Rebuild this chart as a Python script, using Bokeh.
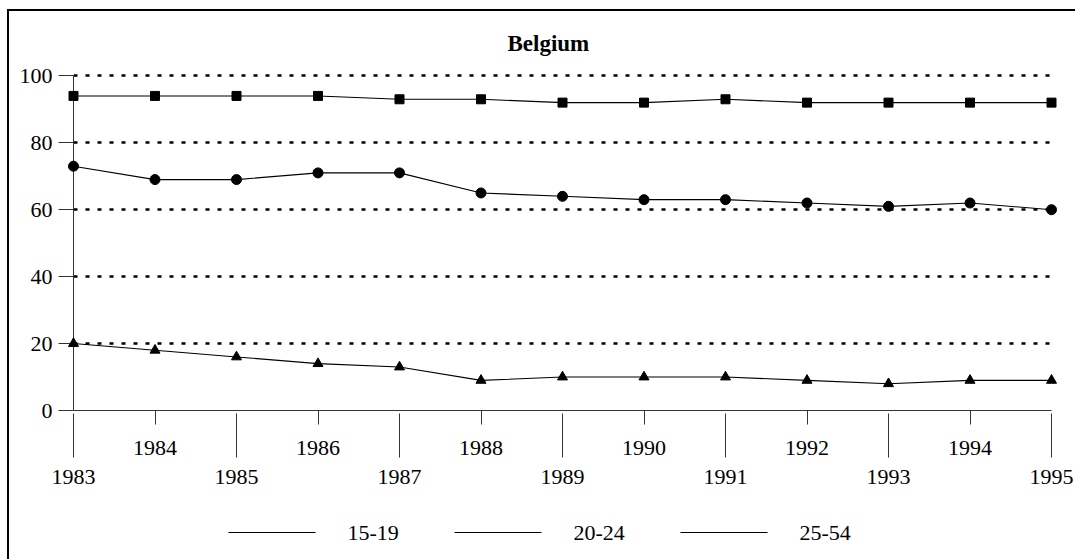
from bokeh.plotting import figure
from bokeh.models import Range1d, LinearAxis, FixedTicker, Grid
from bokeh.core.properties import value
from bokeh.embed import file_html
from bokeh.resources import INLINE

years = [1983, 1984, 1985, 1986, 1987, 1988, 1989, 1990, 1991, 1992, 1993, 1994, 1995]
age_15_19 = [20, 18, 16, 14, 13, 9, 10, 10, 10, 9, 8, 9, 9]
age_20_24 = [73, 69, 69, 71, 71, 65, 64, 63, 63, 62, 61, 62, 60]
age_25_54 = [94, 94, 94, 94, 93, 93, 92, 92, 93, 92, 92, 92, 92]
series_labels = ["15-19", "20-24", "25-54"]
y_ticks = [0, 20, 40, 60, 80, 100]
title_text = "Belgium"

FONT = "Liberation Serif"
INK = "black"
AXIS_INK = "#333333"

FRAME_W, FRAME_H = 978, 338
Y_TOP = 101

p = figure(frame_width=FRAME_W, frame_height=FRAME_H, output_backend="svg", toolbar_location=None,
           x_range=Range1d(years[0], years[-1]), y_range=Range1d(0, Y_TOP),
           x_axis_location=None, y_axis_location=None,
           min_border_left=64, min_border_right=24, min_border_top=58, min_border_bottom=150,
           title=title_text)
p.outline_line_color = None
for g in p.grid:
    g.visible = False
p.styles = {"margin-left": "7px", "margin-top": "9px",
            "border-left": "2px solid black", "border-top": "2px solid black"}

p.title.align = "left"
p.title.offset = 434
p.title.text_font = FONT
p.title.text_font_size = "23px"
p.title.text_font_style = "bold"
p.title.text_color = INK
p.title.standoff = 34

# y axis
yax = LinearAxis(ticker=FixedTicker(ticks=y_ticks), bounds=(y_ticks[0], y_ticks[-1]),
                 major_tick_out=15, major_tick_in=0, minor_tick_out=0, minor_tick_in=0,
                 major_label_standoff=6, major_label_text_font=FONT,
                 major_label_text_font_size="22px", major_label_text_color=INK,
                 axis_line_color=AXIS_INK, major_tick_line_color=AXIS_INK)
p.add_layout(yax, "left")

# staggered x axes: even years close to the axis, odd years further down
xeven = LinearAxis(ticker=FixedTicker(ticks=years[1::2]),
                   major_tick_out=14, major_tick_in=0, minor_tick_out=0, minor_tick_in=0,
                   major_label_standoff=16, major_label_text_font=FONT,
                   major_label_text_font_size="22px", major_label_text_color=INK,
                   axis_line_color=AXIS_INK, major_tick_line_color=AXIS_INK)
xodd = LinearAxis(ticker=FixedTicker(ticks=years[0::2]),
                  major_tick_out=0, major_tick_in=44, minor_tick_out=0, minor_tick_in=0,
                  major_label_standoff=12, major_label_text_font=FONT,
                  major_label_text_font_size="22px", major_label_text_color=INK,
                  axis_line_color=None, major_tick_line_color=AXIS_INK)
p.add_layout(xeven, "below")
p.add_layout(xodd, "below")

# dotted horizontal gridlines
grid = Grid(dimension=1, ticker=FixedTicker(ticks=y_ticks[1:]),
            grid_line_color=INK, grid_line_width=2.5, grid_line_dash="4 8")
p.add_layout(grid)

series = [age_15_19, age_20_24, age_25_54]
markers = ["triangle", "circle", "square"]
sizes = [10, 10, 9]
for vals, m, s in zip(series, markers, sizes):
    p.line(years, vals, line_color=INK, line_width=1.1)
    p.scatter(years, vals, marker=m, size=s, fill_color=INK, line_color=INK, level="overlay")

# legend row below the staggered year labels (drawn on the unclipped overlay level)
px_per_year = FRAME_W / (years[-1] - years[0])
px_per_unit = FRAME_H / Y_TOP
leg_row_y = -122 / px_per_unit            # 122 px below the zero line
leg_first_px, leg_pitch_px = 155, 226     # offsets from the y axis, in pixels
glyph_px, label_gap_px = 87, 32
x0s, x1s, mids, label_xs = [], [], [], []
for i in range(len(series_labels)):
    start = years[0] + (leg_first_px + i * leg_pitch_px) / px_per_year
    end = start + glyph_px / px_per_year
    x0s.append(start)
    x1s.append(end)
    mids.append((start + end) / 2)
    label_xs.append(end + label_gap_px / px_per_year)
row = [leg_row_y] * len(series_labels)

p.segment(x0=x0s, x1=x1s, y0=row, y1=row, line_color=INK, line_width=1, level="overlay")
for mx, m in zip(mids, markers):
    p.scatter(x=[mx], y=[leg_row_y], marker=m, size=7, fill_color=INK, line_color=INK,
              level="overlay")
p.text(x=label_xs, y=row, text=series_labels, text_font=value(FONT),
       text_font_size="22px", text_baseline="middle", text_align="left",
       text_color=INK, level="overlay")

open("out.html", "w").write(file_html(p, INLINE))
